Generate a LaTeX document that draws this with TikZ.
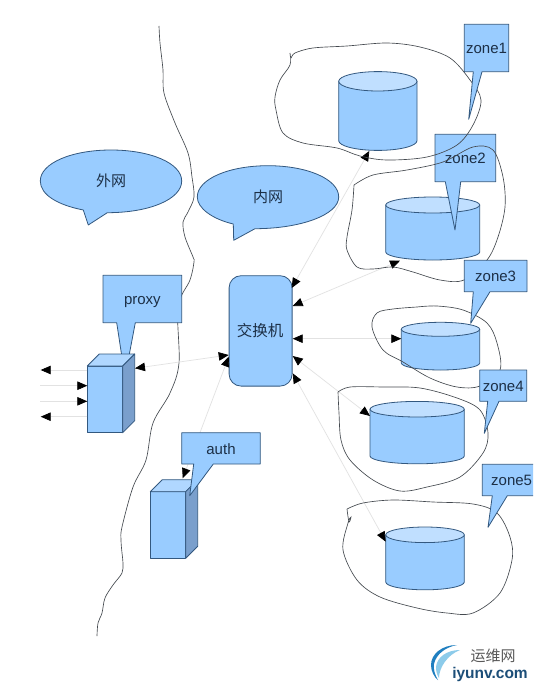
\documentclass[tikz,border=0pt]{standalone}
\usepackage{fontspec}
\setmainfont{Liberation Sans}
\newfontfamily\cjk{Noto Sans CJK SC}
\usetikzlibrary{arrows.meta}
\definecolor{bluefill}{HTML}{99CCFF}
\definecolor{bluetop}{HTML}{C0DFFF}
\definecolor{blueside}{HTML}{7A9FCC}
\definecolor{blueedge}{HTML}{33587F}
\definecolor{inktext}{HTML}{1C2F46}
\definecolor{loopline}{HTML}{44494F}
\definecolor{linkgray}{HTML}{E2E2E2}
\definecolor{logoblue}{HTML}{1F7FC0}
\definecolor{logolight}{HTML}{8CCBEA}
\definecolor{logotext}{HTML}{1C4E78}
\tikzset{
  shapeline/.style={draw=blueedge,line width=0.8pt,line join=round},
  bubble/.style={shapeline,fill=bluefill},
  label/.style={text=inktext,font=\fontsize{15}{17}\selectfont,inner sep=0pt,text height=11.5pt,text depth=0pt},
  cjklabel/.style={text=inktext,font=\cjk\fontsize{15}{17}\selectfont,inner sep=0pt},
  loopcurve/.style={draw=loopline,line width=0.65pt},
  link/.style={draw=linkgray,line width=0.7pt,
    {Triangle[length=10pt,width=8.5pt,black]}-{Triangle[length=10pt,width=8.5pt,black]}},
  stub/.style={draw=linkgray,line width=0.7pt,-{Triangle[length=10pt,width=8.5pt,black]}},
}
% name, left, right, y top centre, y bottom centre, ry
\newcommand\drumshape[6]{%
  \path[bubble] (#2,#4) -- (#2,#5) arc[start angle=180,end angle=360,x radius={(#3-#2)/2*1pt},y radius=#6pt] -- (#3,#4) -- cycle;
  \path[shapeline,fill=bluetop] ({(#2+#3)/2},#4) ellipse[x radius={(#3-#2)/2*1pt},y radius=#6pt];
  \coordinate (#1) at ({(#2+#3)/2},{(#4+#5)/2});
}
% name, left, right, top, bottom
\newcommand\towershape[5]{%
  \path[bubble] (#2,#4) rectangle (#3,#5);
  \path[shapeline,fill=bluetop!60!bluefill] (#2,#4) -- ({#2+12},{#4-12}) -- ({#3+12},{#4-12}) -- (#3,#4) -- cycle;
  \path[shapeline,fill=blueside] (#3,#4) -- ({#3+12},{#4-12}) -- ({#3+12},{#5-12}) -- (#3,#5) -- cycle;
  \coordinate (#1) at ({(#2+#3)/2},{(#4+#5)/2});
}
% name, text, left, right, top, bottom, tail left x, tail right x, tip
\newcommand\tagshape[9]{%
  \path[bubble] (#3,#5) -- (#4,#5) -- (#4,#6) -- (#8,#6) -- #9 -- (#7,#6) -- (#3,#6) -- cycle;
  \node[label] (#1) at ({(#3+#4)/2},{(#5+#6)/2}) {#2};
}
\begin{document}
\begin{tikzpicture}[x=1pt,y=-1pt]
\useasboundingbox (0,0) rectangle (533,690);
\clip (0,0) rectangle (533,690);
\fill[white] (0,0) rectangle (533,690);

% boundary between the networks
\draw[loopcurve] plot[smooth,tension=0.55] coordinates {(159,26) (160,43) (163,70) (164,93) (175,123) (188,153) (192,177) (194,197) (188,212) (183,222) (185,237) (193,257) (194,262) (190,280) (178,307) (179,363) (170,393) (153,423) (146,460) (133,487) (122,527) (121,540) (122,553) (123,563) (122,573) (113,585) (105,598) (102,613) (98,623) (97,636)};

% outside bubble
\path[bubble] (83.3,210) .. controls (58,205) and (40.3,195) .. (40.3,181)
  .. controls (40.3,163) and (72,150) .. (111,150)
  .. controls (150,150) and (181.7,163) .. (181.7,181)
  .. controls (181.7,199) and (150,212.7) .. (107.3,212.7)
  -- (88.3,225) -- cycle;
\node[cjklabel] (outer) at (111,181) {外网};

% inside bubble
\path[bubble] (233.3,224) .. controls (212,219) and (197.3,208) .. (197.3,197)
  .. controls (197.3,179) and (229,165.7) .. (268,165.7)
  .. controls (307,165.7) and (338.7,179) .. (338.7,197)
  .. controls (338.7,215) and (300,228.7) .. (255,228.7)
  -- (233.7,240.3) -- cycle;
\node[cjklabel] (inner) at (268,197) {内网};

% drums
\drumshape{drumA}{338.7}{417}{81.3}{140.7}{9.7}
\drumshape{drumB}{385.7}{479.7}{205}{252}{8}
\drumshape{drumC}{401.3}{479.7}{329.3}{363}{7}
\drumshape{drumD}{370}{464.3}{409.2}{456}{7.8}
\drumshape{drumE}{385.7}{464.3}{534.8}{582}{7.8}

% switch
\node[bubble,rounded corners=12pt,minimum width=63pt,minimum height=110.4pt,inner sep=0pt,anchor=north west] (switch) at (228.7,275.3) {};
\node[cjklabel,font=\cjk\fontsize{15.5}{17}\selectfont] (switchlabel) at (260.2,331) {交换机};

% proxy
\tagshape{proxytag}{proxy}{103}{181.7}{275.3}{322.7}{116.7}{135.3}{(125,377)}
\towershape{proxybox}{87.3}{122.7}{366}{432.7}

% auth
\towershape{authbox}{150.3}{185.7}{491.7}{558.3}

% connector ends
\coordinate (endA) at (369.3,151);
\coordinate (endB) at (400,260.7);
\coordinate (endC) at (401.3,338.7);
\coordinate (endD) at (370,416);
\coordinate (endE) at (385.7,541.7);
\coordinate (swA) at (291.7,288);
\coordinate (swB) at (292.7,306);
\coordinate (swC) at (292.7,338.7);
\coordinate (swD) at (292.7,356);
\coordinate (swE) at (292.7,373.3);
\coordinate (swP) at (228.7,355);
\coordinate (swQ) at (228.7,356.7);
\coordinate (proxyEnd) at (135,368.3);
\coordinate (authEnd) at (182.7,478.3);
\coordinate (outA) at (40.7,370);
\coordinate (outB) at (40,385.7);
\coordinate (outC) at (40,401.3);
\coordinate (outD) at (40.7,416.7);
\coordinate (frontA) at (87.3,370);
\coordinate (frontB) at (87.3,385.7);
\coordinate (frontC) at (87.3,401.3);
\coordinate (frontD) at (87.3,416.7);

\draw[link] (swA) -- (endA);
\draw[link] (swB) -- (endB);
\draw[link] (swC) -- (endC);
\draw[link] (swD) -- (endD);
\draw[link] (swE) -- (endE);
\draw[link] (proxyEnd) -- (swP);
\draw[link] (authEnd) -- (swQ);
\draw[stub] (frontA) -- (outA);
\draw[stub] (outB) -- (frontB);
\draw[stub] (outC) -- (frontC);
\draw[stub] (frontD) -- (outD);

\tagshape{authtag}{auth}{181.7}{260.3}{432.7}{464}{193.7}{213.3}{(189.7,495.7)}

% zone tags and their outlines
\tagshape{zoneB}{zone2}{435}{495.7}{134.3}{181.7}{445.3}{460.7}{(455,230)}

\draw[loopcurve] plot[smooth,tension=0.55] coordinates {(290,53) (291,58) (295,53) (313,48) (347,46) (387,43) (420,47) (450,58) (470,80) (481,100) (473,125) (457,145) (427,157) (387,160) (360,156) (337,148) (303,143) (283,133) (276,110) (275,97) (280,80) (290,65) (290,53)};
\draw[loopcurve] plot[smooth,tension=0.55] coordinates {(354,185) (373,175) (407,170) (443,162) (473,147) (493,150) (503,177) (505,207) (498,237) (487,260) (464,280) (440,280) (413,272) (393,267) (373,269) (357,267) (347,250) (347,237) (352,210) (354,185)};
\draw[loopcurve] plot[smooth,tension=0.55] coordinates {(417,307) (437,306) (463,310) (487,323) (497,343) (500,370) (480,386) (457,387) (430,378) (403,362) (383,350) (372,327) (377,313) (393,309) (417,307)};
\draw[loopcurve] plot[smooth,tension=0.55] coordinates {(338,392) (350,387) (383,387) (420,388) (457,398) (480,410) (488,433) (483,453) (460,477) (427,487) (400,491) (373,480) (350,460) (341,440) (339,413) (338,392)};
\draw[loopcurve] plot[smooth,tension=0.55] coordinates {(347,509) (363,503) (393,500) (433,502) (473,504) (497,513) (510,537) (512,560) (500,593) (473,613) (447,613) (417,608) (380,597) (357,580) (343,550) (348,523) (351,517) (349,522) (347,509)};

\tagshape{zoneA}{zone1}{464.3}{508.7}{24.3}{71.7}{473.3}{482}{(468.7,119.3)}
\tagshape{zoneC}{zone3}{464.3}{527}{260.3}{291.7}{473.3}{490}{(470.7,323.3)}
\tagshape{zoneD}{zone4}{479.7}{526.7}{370}{401.3}{487.7}{499}{(484.3,433.3)}
\path[bubble] (482.3,464.3) -- (540,464.3) -- (540,495.7) -- (507.3,495.7) -- (488,527.3) -- (492.3,495.7) -- (482.3,495.7) -- cycle;
\node[label,anchor=west] (zoneE) at (491,480) {zone5};

% site mark
\fill[logoblue] (457,645) .. controls (442,645) and (431,654) .. (431,665) .. controls (431,671) and (434,677) .. (438,680) .. controls (435,675) and (433,669) .. (434,664) .. controls (436,654) and (446,647) .. (457,645) -- cycle;
\fill[logolight] (460,650) .. controls (447,650) and (437,657) .. (436,667) .. controls (436,671) and (437,675) .. (439,678) .. controls (439,668) and (447,655) .. (460,650) -- cycle;
\node[text=black!65,font=\cjk\fontsize{15}{17}\selectfont,inner sep=0pt] (marktext) at (493,656) {运维网};
\node[text=logotext,font=\bfseries\fontsize{15.5}{17}\selectfont,inner sep=0pt] (markurl) at (490,674) {iyunv.com};
\end{tikzpicture}
\end{document}
